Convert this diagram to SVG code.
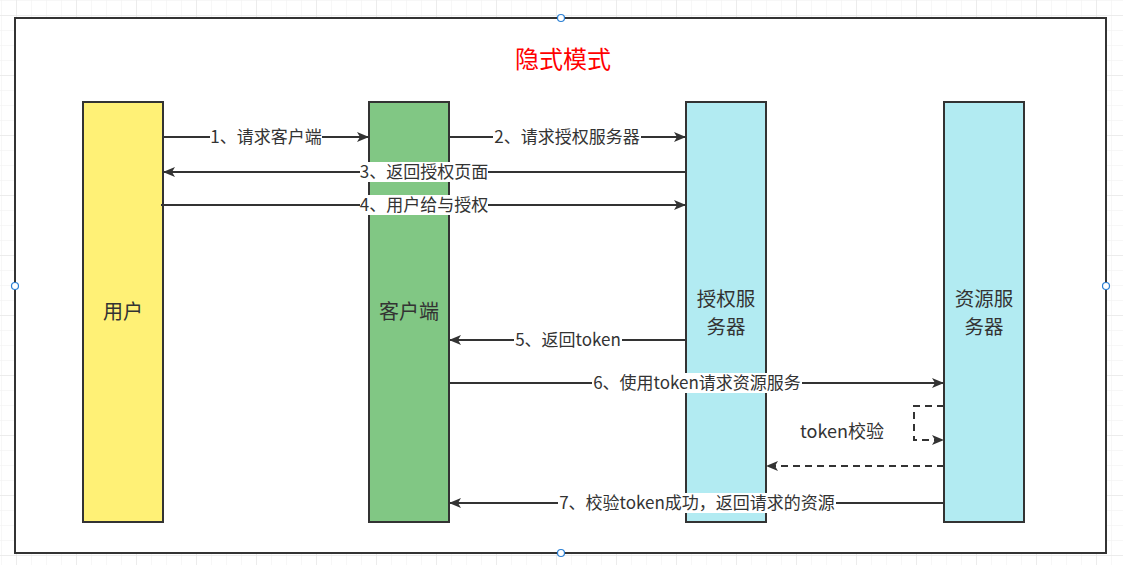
<svg xmlns="http://www.w3.org/2000/svg" width="1123" height="565" viewBox="0 0 1123 565">
<defs>
<pattern id="minor" x="1" y="0" width="15" height="15" patternUnits="userSpaceOnUse">
<path d="M0 0V15M0 0H15" fill="none" stroke="#efefef" stroke-width="1"/>
</pattern>
<pattern id="major" x="16" y="15" width="60" height="60" patternUnits="userSpaceOnUse">
<path d="M0 0V60M0 0H60" fill="none" stroke="#e2e2e2" stroke-width="1"/>
</pattern>
<marker id="arr" viewBox="0 0 12 10" refX="11" refY="5" markerWidth="12" markerHeight="10" markerUnits="userSpaceOnUse" orient="auto">
<path d="M0 0 L12 5 L0 10 L3 5 Z" fill="#333"/>
</marker>
<style>
.box{stroke:#333;stroke-width:2}
.ln{fill:none;stroke:#333;stroke-width:2;marker-end:url(#arr)}
.dash{stroke-dasharray:7 5}
.lbl{font-family:"Noto Sans CJK SC","Liberation Sans",sans-serif;font-size:17px;fill:#333;text-anchor:middle}
.nl{font-family:"Noto Sans CJK SC","Liberation Sans",sans-serif;font-size:20px;fill:#333;text-anchor:middle}
.nl2{font-family:"Noto Sans CJK SC","Liberation Sans",sans-serif;font-size:19.5px;fill:#333;text-anchor:middle}
.bg{fill:#fff}
.h{fill:#fff;stroke:#2a7fd4;stroke-width:1.2}
</style>
</defs>
<rect width="1123" height="565" fill="#fff"/>
<rect width="1123" height="565" fill="url(#minor)"/>
<rect width="1123" height="565" fill="url(#major)"/>
<g id="frame">
<rect x="15" y="18" width="1091" height="535" fill="#fff" stroke="#333" stroke-width="2"/>
<text x="563" y="68" font-family="'Noto Sans CJK SC','Liberation Sans',sans-serif" font-size="24" fill="#ff0000" text-anchor="middle">隐式模式</text>
</g>
<g id="user"><rect class="box" x="83" y="102" width="80" height="420" fill="#fff176"/><text class="nl" x="123" y="319">用户</text></g>
<g id="client"><rect class="box" x="369" y="102" width="80" height="420" fill="#81c784"/><text class="nl" x="409" y="319">客户端</text></g>
<g id="auth"><rect class="box" x="686" y="102" width="80" height="420" fill="#b2ebf2"/><text class="nl2" x="726" y="306">授权服</text><text class="nl2" x="726" y="334">务器</text></g>
<g id="resource"><rect class="box" x="944" y="102" width="80" height="420" fill="#b2ebf2"/><text class="nl2" x="984" y="306">资源服</text><text class="nl2" x="984" y="334">务器</text></g>
<g id="connectors">
<path class="ln" d="M163 137H368"/>
<rect class="bg" x="210" y="127" width="112" height="20"/><text class="lbl" x="266" y="143">1、请求客户端</text>
<path class="ln" d="M449 137H685"/>
<rect class="bg" x="493" y="127" width="148" height="20"/><text class="lbl" x="567" y="143">2、请求授权服务器</text>
<path class="ln" d="M686 172H164"/>
<rect class="bg" x="360" y="162" width="128" height="20"/><text class="lbl" x="424" y="178">3、返回授权页面</text>
<path class="ln" d="M161 205H685"/>
<rect class="bg" x="360" y="195" width="128" height="20"/><text class="lbl" x="424" y="211">4、用户给与授权</text>
<path class="ln" d="M686 340H450"/>
<rect class="bg" x="514" y="330" width="108" height="20"/><text class="lbl" x="568" y="346">5、返回token</text>
<path class="ln" d="M449 383H943"/>
<rect class="bg" x="592" y="373" width="210" height="20"/><text class="lbl" x="697" y="389">6、使用token请求资源服务</text>
<path class="ln dash" d="M944 406H914V440H943"/>
<text class="lbl" x="842" y="438" style="font-size:18px">token校验</text>
<path class="ln dash" d="M944 466H767"/>
<path class="ln" d="M944 503H450"/>
<rect class="bg" x="558" y="493" width="278" height="20"/><text class="lbl" x="697" y="509">7、校验token成功，返回请求的资源</text>
</g>
<g id="handles">
<circle class="h" cx="561" cy="18" r="3.5"/>
<circle class="h" cx="561" cy="553" r="3.5"/>
<circle class="h" cx="15" cy="286" r="3.5"/>
<circle class="h" cx="1106" cy="286" r="3.5"/>
</g>
</svg>
